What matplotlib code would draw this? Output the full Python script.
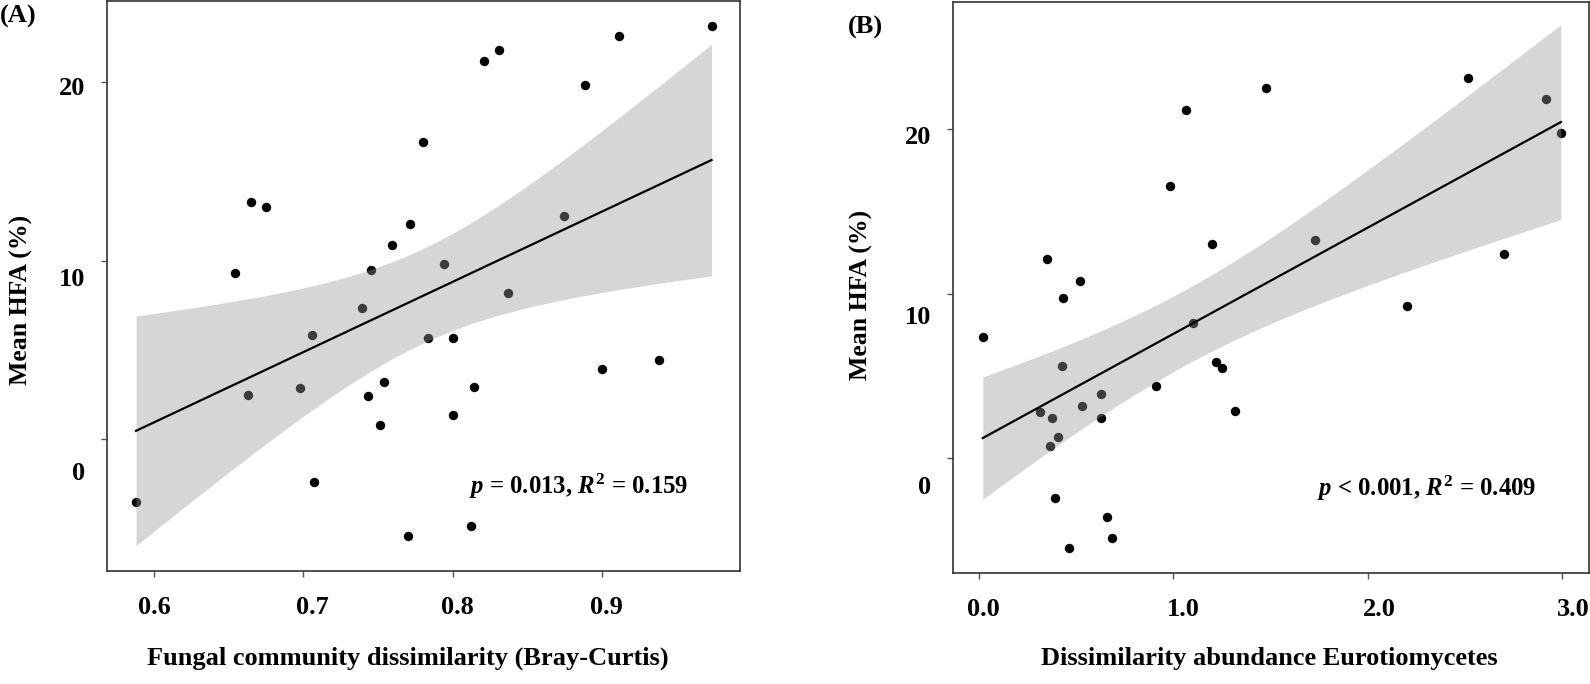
import numpy as np
import matplotlib
matplotlib.use("Agg")
import matplotlib.pyplot as plt

plt.rcParams["font.family"] = ["Liberation Serif", "DejaVu Serif"]
plt.rcParams["font.weight"] = "bold"
plt.rcParams["mathtext.fontset"] = "custom"
plt.rcParams["mathtext.it"] = "Liberation Serif:italic:bold"
plt.rcParams["mathtext.rm"] = "Liberation Serif:bold"
plt.rcParams["mathtext.bf"] = "Liberation Serif:bold"

# panel A: Bray-Curtis dissimilarity vs mean HFA
bray_x = [0.588, 0.654, 0.663, 0.665, 0.675, 0.698, 0.706, 0.707, 0.739, 0.743,
          0.745, 0.751, 0.754, 0.759, 0.770, 0.771, 0.780, 0.783, 0.794, 0.800,
          0.800, 0.812, 0.814, 0.821, 0.831, 0.837, 0.874, 0.888, 0.900, 0.911,
          0.938, 0.973]
bray_hfa = [-3.55, 9.32, 2.48, 13.26, 13.02, 2.88, 5.83, -2.43, 7.32, 2.41,
            9.50, 0.78, 3.21, 10.87, -5.42, 12.06, 16.66, 5.68, 9.82, 5.64,
            1.34, -4.85, 2.90, 21.18, 21.81, 8.20, 12.49, 19.81, 3.94, 22.56,
            4.43, 23.12]

# panel B: Eurotiomycetes abundance dissimilarity vs mean HFA
euro_x = [0.019, 0.316, 0.350, 0.367, 0.377, 0.391, 0.408, 0.427, 0.431, 0.461,
          0.521, 0.528, 0.626, 0.626, 0.660, 0.686, 0.911, 0.981, 1.064, 1.103,
          1.201, 1.220, 1.249, 1.318, 1.479, 1.729, 2.203, 2.518, 2.702, 2.917,
          2.995]
euro_hfa = [7.34, 2.82, 12.10, 0.75, 2.43, -2.45, 1.30, 5.61, 9.75, -5.49,
            10.80, 3.18, 3.89, 2.43, -3.59, -4.88, 4.40, 16.58, 21.16, 8.23,
            13.01, 5.82, 5.49, 2.88, 22.51, 13.25, 9.28, 23.12, 12.42, 21.84,
            19.78]

stats_a = "$p$ = 0.013, $R^2$ = 0.159"
stats_b = "$p$ < 0.001, $R^2$ = 0.409"

y_ticks = [0, 10, 20]
y_tick_labels = ["0", "10", "20"]
a_x_ticks = [0.6, 0.7, 0.8, 0.9]
a_x_tick_labels = ["0.6", "0.7", "0.8", "0.9"]
b_x_ticks = [0.0, 1.0, 2.0, 3.0]
b_x_tick_labels = ["0.0", "1.0", "2.0", "3.0"]

T_CRIT = 2.04  # 95% t quantile, ~30 df


def lm_band(x, y, n=80):
    x = np.asarray(x)
    y = np.asarray(y)
    slope, icpt = np.polyfit(x, y, 1)
    grid = np.linspace(x.min(), x.max(), n)
    fit = icpt + slope * grid
    resid = y - (icpt + slope * x)
    s = np.sqrt(np.sum(resid ** 2) / (len(x) - 2))
    sxx = np.sum((x - x.mean()) ** 2)
    se = s * np.sqrt(1.0 / len(x) + (grid - x.mean()) ** 2 / sxx)
    return grid, fit, fit - T_CRIT * se, fit + T_CRIT * se


def panel(ax, x, y, xticks, xlabels, xlab_pos, ylab_pos, xlim, ylim,
          xlabel, stats, letter, letter_xy):
    ax.scatter(x, y, s=46, color="black", zorder=2, linewidths=0)
    grid, fit, lo, hi = lm_band(x, y)
    ax.fill_between(grid, lo, hi, color="#999999", alpha=0.4, lw=0, zorder=3)
    ax.plot(grid, fit, color="black", lw=1.6, zorder=4)
    ax.set_xlim(*xlim)
    ax.set_ylim(*ylim)

    # tick marks at the values, labels drawn a bit off like the original
    ax.xaxis.remove_overlapping_locs = False
    ax.yaxis.remove_overlapping_locs = False
    ax.set_xticks(xticks, [""] * len(xticks))
    ax.set_yticks(y_ticks, [""] * len(y_ticks))
    ax.set_xticks(xlab_pos, xlabels, minor=True)
    ax.set_yticks(ylab_pos, y_tick_labels, minor=True)
    ax.tick_params(which="major", length=4, width=1, color="#555555")
    ax.tick_params(which="minor", length=0, labelsize=19)
    ax.tick_params(axis="x", which="minor", pad=18)
    ax.tick_params(axis="y", which="minor", pad=16)
    for sp in ax.spines.values():
        sp.set_color("#333333")
        sp.set_linewidth(1.2)

    ax.set_xlabel(xlabel, fontsize=19, fontweight="bold")
    ax.set_ylabel("Mean HFA (%)", fontsize=18.5, fontweight="bold")
    ax.text(0.572, 0.149, stats, transform=ax.transAxes, fontsize=17.8,
            fontweight="bold", ha="left", va="center")
    ax.figure.text(letter_xy[0], letter_xy[1], letter, fontsize=19,
                   fontweight="bold", ha="left", va="center")


fig = plt.figure(figsize=(15.9, 6.84), dpi=100)
ax_a = fig.add_axes([0.0673, 0.1652, 0.3981, 0.8333])
ax_b = fig.add_axes([0.5994, 0.1623, 0.4, 0.8348])

panel(ax_a, bray_x, bray_hfa, a_x_ticks, a_x_tick_labels,
      [0.6, 0.706, 0.803, 0.903], [-1.8, 9.1, 19.78],
      (0.5686, 0.992), (-7.39, 24.54),
      "Fungal community dissimilarity (Bray-Curtis)", stats_a, "(A)",
      (0.0, 0.976))
panel(ax_b, euro_x, euro_hfa, b_x_ticks, b_x_tick_labels,
      [0.02, 1.05, 2.06, 3.06], [-1.64, 8.72, 19.64],
      (-0.134, 3.14), (-6.99, 27.75),
      "Dissimilarity abundance Eurotiomycetes", stats_b, "(B)",
      (0.533, 0.96))

ax_a.xaxis.set_label_coords(0.476, -0.133)
ax_b.xaxis.set_label_coords(0.497, -0.130)
ax_a.yaxis.set_label_coords(-0.117, 0.475)
ax_b.yaxis.set_label_coords(-0.126, 0.487)

fig.savefig("out.png", dpi=100)
